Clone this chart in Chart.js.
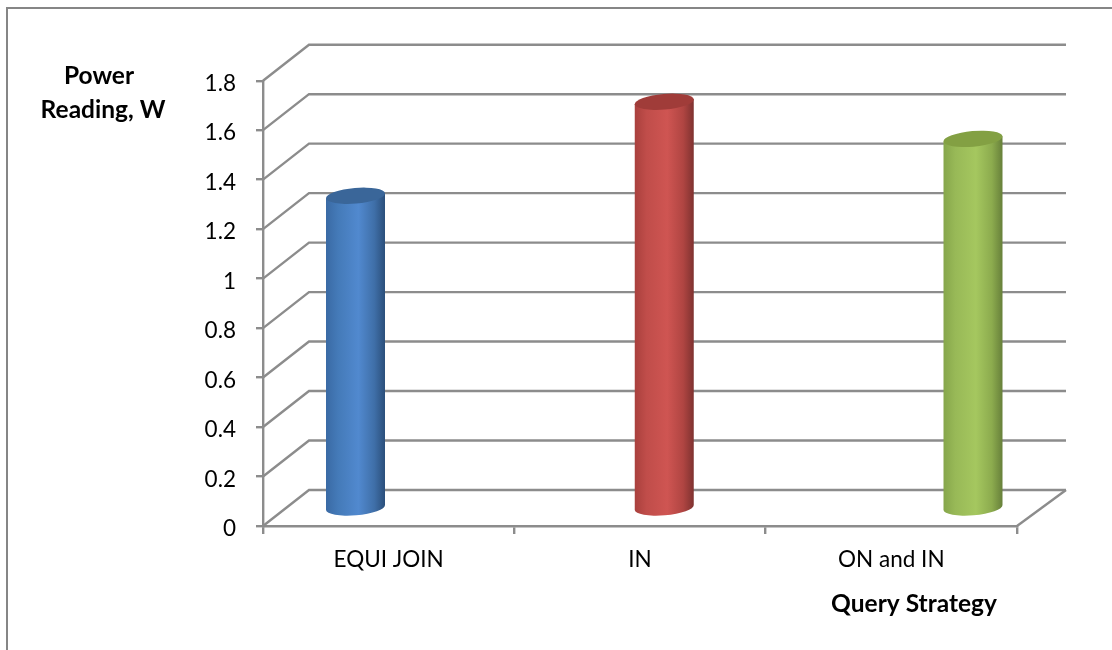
<!DOCTYPE html>
<html>
<head>
<meta charset="utf-8">
<style>
  html, body { margin: 0; padding: 0; background: #fff; }
  #wrap { width: 1112px; height: 650px; position: relative; }
</style>
<script src="https://cdn.jsdelivr.net/npm/chart.js@4/dist/chart.umd.js"></script>
</head>
<body>
<div id="wrap"><canvas id="chart" width="1112" height="650"></canvas></div>
<script>
// Measured power per query strategy
const categories = ['EQUI JOIN', 'IN', 'ON and IN'];
const powerValues = [1.26, 1.64, 1.49];
const yAxisTitle = ['Power', 'Reading, W'];
const xAxisTitle = 'Query Strategy';

// Cylinder shading: left edge, shoulder, highlight, shoulder, right edge
const sideShades = [
  ['#3a6aa4', '#447ab8', '#5189cf', '#3f6fa8', '#2b4f7b'],
  ['#a9403d', '#c04d4a', '#cf5552', '#b04542', '#7f3230'],
  ['#86a64b', '#98b957', '#a5c75f', '#8cab4e', '#67803a']
];
const capShades = ['#3a6699', '#a03c39', '#83a043'];

const GRID = '#8c8c8c';
const DEPTH_LEFT = 46;
const DEPTH_RIGHT = 49;
const DEPTH_Y = -36;
const FONT = 'Lato, Carlito, Calibri, sans-serif';

// Bar controller that renders each bar as a slightly tilted cylinder
class CylinderController extends Chart.BarController {
  draw() {
    const ctx = this.chart.ctx;
    const tilt = -0.085;
    this._cachedMeta.data.forEach((bar, i) => {
      const half = bar.width / 2;
      const rx = half / Math.cos(tilt);
      const ry = 7.8;
      const lift = half * Math.tan(tilt);
      const grad = ctx.createLinearGradient(bar.x - half, 0, bar.x + half, 0);
      [0, 0.2, 0.55, 0.82, 1].forEach((stop, k) => grad.addColorStop(stop, sideShades[i][k]));

      ctx.save();
      ctx.beginPath();
      ctx.ellipse(bar.x, bar.base, rx, ry, tilt, Math.PI, 0, true);
      ctx.lineTo(bar.x + half, bar.y + lift);
      ctx.lineTo(bar.x - half, bar.y - lift);
      ctx.closePath();
      ctx.fillStyle = grad;
      ctx.fill();

      ctx.beginPath();
      ctx.ellipse(bar.x, bar.y, rx, ry, tilt, 0, Math.PI * 2);
      ctx.fillStyle = capShades[i];
      ctx.fill();
      ctx.restore();
    });
  }
}
CylinderController.id = 'cylinder';
CylinderController.defaults = Object.assign({}, Chart.BarController.defaults);
CylinderController.overrides = Chart.BarController.overrides;
Chart.register(CylinderController);

// Back wall, side wall, floor and chart frame around the plot
const wallsPlugin = {
  id: 'walls',
  beforeDatasetsDraw(chart) {
    const { ctx, chartArea: area, scales } = chart;
    const y = scales.y;
    ctx.save();
    ctx.strokeStyle = GRID;
    ctx.lineWidth = 2.4;
    y.ticks.forEach(t => {
      const py = y.getPixelForValue(t.value);
      ctx.beginPath();
      ctx.moveTo(area.left, py);
      ctx.lineTo(area.left + DEPTH_LEFT, py + DEPTH_Y);
      ctx.lineTo(area.right + DEPTH_RIGHT, py + DEPTH_Y);
      ctx.stroke();
    });
    const floor = y.getPixelForValue(0);
    ctx.beginPath();
    ctx.moveTo(area.right, floor);
    ctx.lineTo(area.right + DEPTH_RIGHT, floor + DEPTH_Y);
    ctx.stroke();

    ctx.lineWidth = 2;
    ctx.strokeStyle = '#868686';
    ctx.beginPath();
    ctx.moveTo(7, 650);
    ctx.lineTo(7, 8);
    ctx.lineTo(1112, 8);
    ctx.stroke();
    ctx.restore();
  },
  afterDraw(chart) {
    const ctx = chart.ctx;
    ctx.save();
    ctx.fillStyle = '#000';
    ctx.font = 'bold 24.5px ' + FONT;
    ctx.textBaseline = 'middle';
    ctx.textAlign = 'center';
    ctx.fillText(yAxisTitle[0], 99, 76);
    ctx.fillText(yAxisTitle[1], 103, 110);
    ctx.fillText(xAxisTitle, 914, 604);
    ctx.restore();
  }
};

new Chart(document.getElementById('chart'), {
  data: {
    labels: categories,
    datasets: [{
      type: 'cylinder',
      data: powerValues.map((value, i) => ({ x: i, y: value })),
      xAxisID: 'xBars',
      yAxisID: 'yBars',
      backgroundColor: capShades,
      barThickness: 59
    }]
  },
  plugins: [wallsPlugin],
  options: {
    responsive: false,
    animation: false,
    layout: { padding: { top: 80.7, right: 95, left: 0, bottom: 0 } },
    plugins: { legend: { display: false }, tooltip: { enabled: false } },
    scales: {
      x: {
        type: 'category',
        offset: true,
        grid: { offset: true, drawOnChartArea: false, color: GRID, lineWidth: 2.4, tickLength: 8 },
        border: { color: GRID, width: 2.4 },
        ticks: { color: '#000', font: { family: FONT, size: 22.5 }, padding: 12 },
        afterFit: s => { s.height = 124; }
      },
      y: {
        type: 'linear',
        min: 0,
        max: 1.8,
        grid: { drawOnChartArea: false, color: GRID, lineWidth: 2.4, tickLength: 7 },
        border: { color: GRID, width: 2.4 },
        ticks: { stepSize: 0.2, color: '#000', font: { family: FONT, size: 22.5 }, padding: 20, labelOffset: 3,
                 callback: v => String(Math.round(v * 10) / 10) },
        afterFit: s => { s.width = 263; }
      },
      // Bars stand mid-way through the floor depth, so they use their own hidden scales
      xBars: { type: 'linear', display: false, offset: false, min: -0.2996, max: 2.1425, position: 'bottom' },
      yBars: { type: 'linear', display: false, min: -0.0748, max: 1.7252, position: 'left' }
    }
  }
});
</script>
</body>
</html>
